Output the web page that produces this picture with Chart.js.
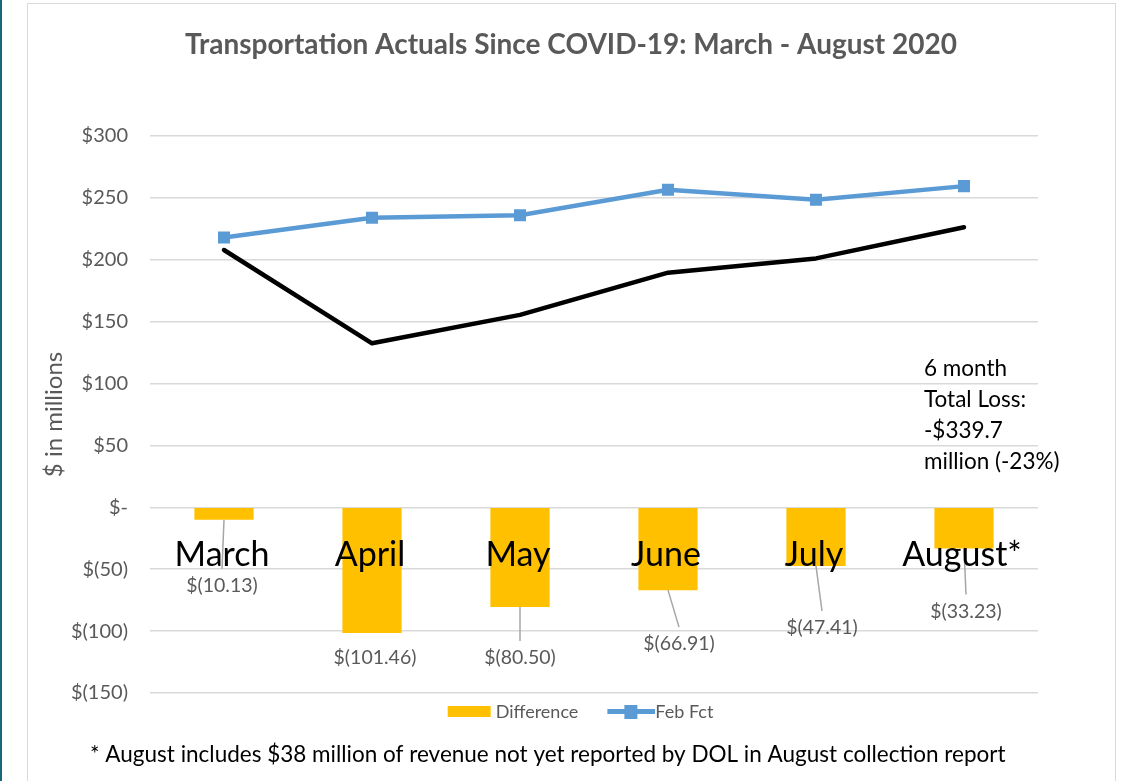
<!DOCTYPE html>
<html>
<head>
<meta charset="utf-8">
<title>Transportation Actuals Since COVID-19</title>
<script src="https://cdn.jsdelivr.net/npm/chart.js@4.4.0/dist/chart.umd.min.js"></script>
<style>
    html, body { margin: 0; padding: 0; background: #fff; }
    body { width: 1140px; height: 781px; position: relative; overflow: hidden; font-family: Lato, sans-serif; }
    #edge { position: absolute; left: 0; top: 0; width: 2px; height: 781px; background: #17687a; }
    #frame { position: absolute; left: 27px; top: 3px; width: 1089px; height: 820px; border: 1px solid #d9d9d9; box-sizing: border-box; }
    #wrap { position: absolute; left: 0; top: 0; width: 1140px; height: 781px; }
</style>
</head>
<body>
<div id="edge"></div>
<div id="frame"></div>
<div id="wrap"><canvas id="chart" width="1140" height="781"></canvas></div>
<script>
// monthly figures, $ in millions
const months = ['March', 'April', 'May', 'June', 'July', 'August*'];
const difference = [-10.13, -101.46, -80.50, -66.91, -47.41, -33.23];
const febFct = [218, 234, 236, 256.5, 248.5, 259.5];
const actuals = [207.9, 132.5, 155.5, 189.6, 201.1, 226.3];

const yMin = -150;
const yMax = 300;
const yStep = 50;

const titleText = 'Transportation Actuals Since COVID-19: March - August 2020';
const noteLines = ['6 month', 'Total Loss:', '-$339.7', 'million (-23%)'];
const footnote = '* August includes $38 million of revenue not yet reported by DOL in August collection report';

// where each difference label sits relative to the bottom of its bar
const labelShift = [[-2, 66], [3, 25], [0, 51], [11, 54], [6, 62], [2, 63]];

const YELLOW = '#FFC000';
const BLUE = '#5B9BD5';
const GREY_TEXT = '#595959';
const FONT = 'Lato, sans-serif';

function money(v) {
    if (v === 0) return '$-';
    if (v < 0) return '$(' + Math.abs(v).toFixed(Number.isInteger(v) ? 0 : 2) + ')';
    return '$' + v;
}

// legend swatches are wider than the box chart.js reserves (58px),
// so they spill 9px each side and sit close to their text
function makeIcon(draw) {
    const c = document.createElement('canvas');
    c.width = 76;
    c.height = 16;
    draw(c.getContext('2d'));
    return c;
}
const legendIcons = {
    'Difference': makeIcon(ctx => {
        ctx.fillStyle = YELLOW;
        ctx.fillRect(28, 2, 43, 11);
    }),
    'Feb Fct': makeIcon(ctx => {
        ctx.fillStyle = BLUE;
        ctx.fillRect(28, 5, 48, 5);
        ctx.fillRect(45, 1, 13, 14);
    })
};

const textLayer = {
    id: 'textLayer',
    afterDatasetsDraw(chart) {
        const ctx = chart.ctx;
        const x = chart.scales.x;
        const y = chart.scales.y;
        const zero = y.getPixelForValue(0);
        ctx.save();

        // value labels with leader lines
        ctx.font = '19.5px ' + FONT;
        ctx.textAlign = 'center';
        ctx.textBaseline = 'middle';
        difference.forEach((v, i) => {
            const bx = x.getPixelForValue(i);
            const by = y.getPixelForValue(v);
            const lx = bx + labelShift[i][0];
            const ly = by + labelShift[i][1];
            if (labelShift[i][1] > 35) {
                ctx.strokeStyle = '#a6a6a6';
                ctx.lineWidth = 1.5;
                ctx.beginPath();
                ctx.moveTo(bx, by);
                ctx.lineTo(lx, ly - 17);
                ctx.stroke();
            }
            ctx.fillStyle = GREY_TEXT;
            ctx.fillText(money(v), lx, ly);
        });

        // month names sit on the zero line
        ctx.font = '34px ' + FONT;
        ctx.fillStyle = '#000';
        ctx.textBaseline = 'alphabetic';
        months.forEach((m, i) => {
            ctx.fillText(m, x.getPixelForValue(i) - 2, zero + 59);
        });

        // total loss note
        ctx.font = '22.5px ' + FONT;
        ctx.textAlign = 'left';
        ctx.textBaseline = 'middle';
        noteLines.forEach((t, i) => ctx.fillText(t, 924, 369 + i * 31));
        ctx.restore();
    },
    afterDraw(chart) {
        const ctx = chart.ctx;
        ctx.save();
        ctx.fillStyle = GREY_TEXT;
        ctx.font = 'bold 28px ' + FONT;
        ctx.textAlign = 'center';
        ctx.textBaseline = 'middle';
        ctx.fillText(titleText, 571, 45);

        ctx.fillStyle = '#000';
        ctx.font = '22.5px ' + FONT;
        ctx.textAlign = 'left';
        ctx.fillText(footnote, 90, 755);
        ctx.restore();
    }
};

new Chart(document.getElementById('chart'), {
    type: 'bar',
    data: {
        labels: months,
        datasets: [
            {
                label: 'Difference',
                data: difference,
                backgroundColor: YELLOW,
                categoryPercentage: 1,
                barPercentage: 0.4
            },
            {
                type: 'line',
                label: 'Feb Fct',
                data: febFct,
                borderColor: BLUE,
                backgroundColor: BLUE,
                borderWidth: 4.5,
                pointStyle: 'rect',
                pointRadius: 8.5,
                pointBorderWidth: 0,
                tension: 0
            },
            {
                type: 'line',
                label: 'Actuals',
                data: actuals,
                borderColor: '#000',
                borderWidth: 4.5,
                borderCapStyle: 'round',
                borderJoinStyle: 'round',
                pointRadius: 0,
                tension: 0
            }
        ]
    },
    options: {
        responsive: false,
        animation: false,
        layout: { padding: { left: 2, right: 0, top: 136, bottom: 50 } },
        scales: {
            x: { display: false, offset: true },
            y: {
                min: yMin,
                max: yMax,
                ticks: {
                    stepSize: yStep,
                    padding: 22,
                    color: GREY_TEXT,
                    font: { family: FONT, size: 20 },
                    callback: v => money(v)
                },
                grid: { color: '#d9d9d9', lineWidth: 1.5, drawTicks: false },
                border: { display: false },
                title: {
                    display: true,
                    text: '$ in millions',
                    color: GREY_TEXT,
                    font: { family: FONT, size: 24 },
                    padding: { top: 38, bottom: 0 }
                },
                afterFit(s) { s.width = 148; }
            },
            // empty axis on the right keeps room for the note
            side: {
                position: 'right',
                ticks: { display: false },
                grid: { display: false },
                border: { display: false },
                afterFit(s) { s.width = 102; }
            }
        },
        plugins: {
            title: { display: false },
            tooltip: { enabled: false },
            legend: {
                position: 'bottom',
                labels: {
                    color: GREY_TEXT,
                    font: { family: FONT, size: 18 },
                    usePointStyle: true,
                    pointStyleWidth: 58,
                    padding: 10,
                    generateLabels(chart) {
                        const items = Chart.defaults.plugins.legend.labels.generateLabels(chart);
                        return items
                            .filter(it => legendIcons[it.text])
                            .map(it => Object.assign(it, { pointStyle: legendIcons[it.text] }));
                    }
                }
            }
        }
    },
    plugins: [textLayer]
});
</script>
</body>
</html>
